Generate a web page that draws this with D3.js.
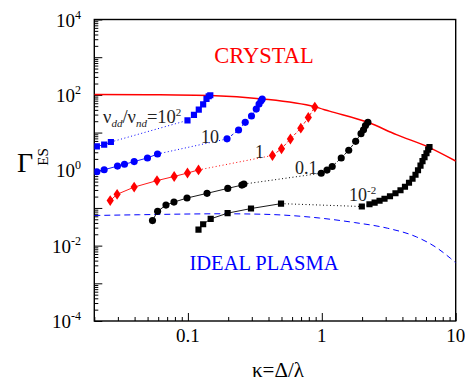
<!DOCTYPE html>
<html><head><meta charset="utf-8">
<script src="https://cdn.jsdelivr.net/npm/d3@7"></script>
<style>
html,body{margin:0;padding:0;background:#fff;}
svg{display:block;}
</style></head>
<body><svg id="c" width="465" height="383"></svg>
<script>
// ---- data ----
const blueSqA_x=[0.0209,0.0237,0.0266], blueSqA_y=[4.3,4.77,5.62];
const blueSqB_x=[0.0993,0.111,0.1206,0.130,0.1377,0.143,0.147], blueSqB_y=[21.1,29.4,40.6,56.2,78.3,91.8,97.6];
const blueCiA_x=[0.0209,0.0237,0.0298,0.0336,0.0397,0.0499,0.0593], blueCiA_y=[0.912,1.03,1.29,1.44,1.70,2.12,2.70];
const blueCiB_x=[0.196,0.239,0.268,0.2985,0.324,0.340,0.352,0.359], blueCiB_y=[6.8,11.7,18.7,27.5,41.9,56.9,69.7,77.3];
const redDiA_x=[0.0263,0.0296,0.0397,0.0588,0.079,0.0993,0.120], redDiA_y=[0.157,0.230,0.357,0.532,0.684,0.843,1.02];
const redDiB_x=[0.428,0.500,0.583,0.697,0.793,0.887], redDiB_y=[2.47,3.73,6.76,13.1,25.2,47.4];
const blkCiA_x=[0.0544,0.0594,0.0686,0.0787,0.0985,0.139,0.1985,0.253,0.262], blkCiA_y=[0.0462,0.0812,0.119,0.143,0.183,0.244,0.330,0.404,0.430];
const blkCiB_x=[0.99,1.094,1.196,1.397,1.589,1.79,1.963,2.05,2.12,2.21], blkCiB_y=[0.832,1.01,1.26,2.12,3.40,5.84,9.35,11.9,15.3,18.7];
const blkSqA_x=[0.120,0.130,0.148,0.198,0.296,0.496], blkSqA_y=[0.0267,0.0370,0.0513,0.0727,0.0964,0.130];
const blkSqB_x=[1.99,2.27,2.48,2.70,2.94,3.23,3.55,3.87,4.18,4.48,4.76,5.01,5.23,5.46,5.65,5.85,6.05,6.23,6.37];
const blkSqB_y=[0.109,0.125,0.139,0.155,0.175,0.204,0.245,0.294,0.364,0.465,0.594,0.759,1.0,1.32,1.74,2.22,2.83,3.51,4.14];
const crystal_x=[0.02,0.05,0.147,0.359,0.887,1.14,2.21,3.61,6.37,10];
const crystal_y=[103,101,96,78,48,37,18.7,8.8,4.0,1.76];
const ideal_x=[0.02,0.0435,0.181,0.361,0.961,1.75,3.09,5.1,7.31,9.14,10];
const ideal_y=[0.063,0.066,0.070,0.068,0.054,0.041,0.029,0.017,0.0085,0.0046,0.0035];
const xMajor=[0.1,1,10], xLabels=["0.1","1","10"];
const yMajor=[1e-4,1e-3,1e-2,1e-1,1,10,100,1e3,1e4];
const yLabelExp=["-4","-2","0","2","4"], yLabelVals=[1e-4,1e-2,1,100,1e4];

// ---- scales ----
const L=94.3,R=455.7,T=19.5,B=321;
const x=d3.scaleLog().domain([0.02,10]).range([L,R]);
const y=d3.scaleLog().domain([1e-4,1e4]).range([B,T]);
const svg=d3.select("#c");
const zip=(a,b)=>a.map((v,i)=>[v,b[i]]);
const FF='"Liberation Serif", "Times New Roman", serif';

// minor ticks
const xMinor=[],yMinor=[];
[0.01,0.1,1].forEach(d=>{for(let k=2;k<=9;k++){const v=d*k; if(v>=0.02&&v<=10) xMinor.push(v);}});
for(let e=-4;e<4;e++){for(let k=2;k<=9;k++) yMinor.push(k*Math.pow(10,e));}

const gx=svg.append("g").attr("transform",`translate(0,${B})`);
gx.call(d3.axisBottom(x).tickValues(xMinor).tickSize(-4).tickFormat("")).call(g=>g.select(".domain").remove());
gx.call(g=>g.append("g").call(d3.axisBottom(x).tickValues(xMajor).tickSize(-8).tickFormat("")).select(".domain").remove());
const gy=svg.append("g").attr("transform",`translate(${L},0)`);
gy.call(d3.axisLeft(y).tickValues(yMinor).tickSize(-4).tickFormat("")).call(g=>g.select(".domain").remove());
gy.call(g=>g.append("g").call(d3.axisLeft(y).tickValues(yMajor).tickSize(-8).tickFormat("")).select(".domain").remove());
svg.selectAll(".tick line").attr("stroke","#000").attr("stroke-width",1);

// frame
svg.append("rect").attr("x",L).attr("y",T).attr("width",R-L).attr("height",B-T)
  .attr("fill","none").attr("stroke","#000").attr("stroke-width",1.4);

const txt=()=>svg.append("text").style("font-family",FF);

// tick labels
xMajor.forEach((v,i)=>txt().attr("x",x(v)).attr("y",342).attr("text-anchor","middle")
  .attr("font-size",19).text(xLabels[i]));
yLabelVals.forEach((v,i)=>{
  const t=txt().attr("x",81).attr("y",y(v)+7).attr("text-anchor","end").attr("font-size",19);
  t.append("tspan").text("10");
  t.append("tspan").attr("dy",-8).attr("font-size",12).text(yLabelExp[i]);
});

// axis titles
txt().attr("x",278).attr("y",377).attr("text-anchor","middle").attr("font-size",21).text("κ=Δ/λ");
txt().attr("x",17).attr("y",172).attr("font-size",28).text("Γ");
txt().attr("transform","translate(48,157) rotate(-90)").attr("text-anchor","middle")
  .attr("font-size",15).text("ES");

// clip
svg.append("clipPath").attr("id","cp").append("rect").attr("x",L).attr("y",T).attr("width",R-L).attr("height",B-T);
const plot=svg.append("g").attr("clip-path","url(#cp)");

const line=d3.line().x(d=>x(d[0])).y(d=>y(d[1]));
const cline=d3.line().x(d=>x(d[0])).y(d=>y(d[1])).curve(d3.curveMonotoneX);

plot.append("path").attr("d",cline(zip(crystal_x,crystal_y))).attr("fill","none").attr("stroke","#ff0000").attr("stroke-width",1.5);
plot.append("path").attr("d",cline(zip(ideal_x,ideal_y))).attr("fill","none").attr("stroke","#0000ff").attr("stroke-width",1).attr("stroke-dasharray","6,4");

function series(ax,ay,bx,by,color,shape){
  const A=zip(ax,ay),Bp=zip(bx,by);
  plot.append("path").attr("d",line(A)).attr("fill","none").attr("stroke",color).attr("stroke-width",0.9);
  plot.append("path").attr("d",line([A[A.length-1],Bp[0]])).attr("fill","none").attr("stroke",color).attr("stroke-width",1).attr("stroke-dasharray","1,2.5");
  plot.append("path").attr("d",line(Bp)).attr("fill","none").attr("stroke",color).attr("stroke-width",0.9).attr("stroke-dasharray","3,2");
  const pts=A.concat(Bp);
  const sym= shape==="circle"? d3.symbol(d3.symbolCircle,40) : shape==="square"? d3.symbol(d3.symbolSquare,38) : d3.symbol(d3.symbolDiamond,34);
  plot.selectAll(null).data(pts).enter().append("path").attr("d",sym)
    .attr("transform",d=>`translate(${x(d[0])},${y(d[1])})${shape==="diamond"?" scale(1.15,1)":""}`)
    .attr("fill",color);
}
series(blueSqA_x,blueSqA_y,blueSqB_x,blueSqB_y,"#0000ff","square");
series(blueCiA_x,blueCiA_y,blueCiB_x,blueCiB_y,"#0000ff","circle");
series(redDiA_x,redDiA_y,redDiB_x,redDiB_y,"#ff0000","diamond");
series(blkCiA_x,blkCiA_y,blkCiB_x,blkCiB_y,"#000000","circle");
series(blkSqA_x,blkSqA_y,blkSqB_x,blkSqB_y,"#000000","square");

// region labels
txt().attr("x",264).attr("y",63).attr("text-anchor","middle").attr("font-size",22.5).attr("fill","#ff0000").text("CRYSTAL");
txt().attr("x",264).attr("y",270).attr("text-anchor","middle").attr("font-size",20.5).attr("fill","#0000ff").text("IDEAL PLASMA");

// series labels
const nl=txt().attr("x",103).attr("y",123).attr("font-size",18.5).attr("fill","#222");
nl.append("tspan").text("ν");
nl.append("tspan").attr("dy",4).attr("font-size",11).attr("font-style","italic").text("dd");
nl.append("tspan").attr("dy",-4).text("/ν");
nl.append("tspan").attr("dy",4).attr("font-size",11).attr("font-style","italic").text("nd");
nl.append("tspan").attr("dy",-4).text("=10");
nl.append("tspan").attr("dy",-7).attr("font-size",11).text("2");
txt().attr("x",201).attr("y",143).attr("font-size",18).attr("fill","#222").text("10");
txt().attr("x",255).attr("y",158).attr("font-size",18).attr("fill","#222").text("1");
txt().attr("x",295).attr("y",174).attr("font-size",18).attr("fill","#222").text("0.1");
const l2=txt().attr("x",349).attr("y",201).attr("font-size",18).attr("fill","#222");
l2.append("tspan").text("10");
l2.append("tspan").attr("dy",-7).attr("font-size",11).text("-2");
</script></body></html>
